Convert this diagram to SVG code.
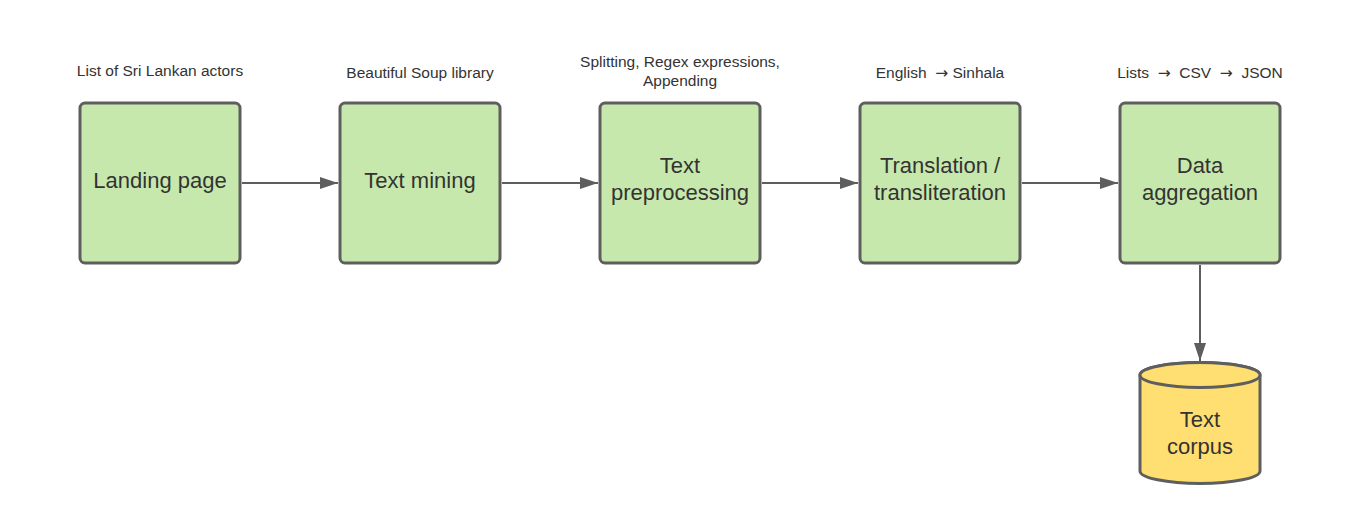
<svg xmlns="http://www.w3.org/2000/svg" width="1360" height="523" viewBox="0 0 1360 523">
<defs>
<style>
.box{fill:#c7e8ac;stroke:#5e5e5e;stroke-width:3}
.cyl{fill:#ffdf71;stroke:#5e5e5e;stroke-width:3}
.t{font-family:"Liberation Sans",Arial,sans-serif;font-size:22px;fill:#333;text-anchor:middle}
.s{font-family:"Liberation Sans",Arial,sans-serif;font-size:15.5px;fill:#333;text-anchor:middle}
.ar{font-family:"DejaVu Sans",sans-serif}
.c{fill:none;stroke:#5e5e5e;stroke-width:2}
</style>
<marker id="ah" markerWidth="18" markerHeight="12" refX="18" refY="6" orient="auto" markerUnits="userSpaceOnUse">
<path d="M0,0 L18,6 L0,12 Z" fill="#5e5e5e"/>
</marker>
</defs>
<rect width="1360" height="523" fill="#fff"/>
<g id="connectors">
<line class="c" x1="242" y1="183" x2="338" y2="183" marker-end="url(#ah)"/>
<line class="c" x1="502" y1="183" x2="598" y2="183" marker-end="url(#ah)"/>
<line class="c" x1="762" y1="183" x2="858" y2="183" marker-end="url(#ah)"/>
<line class="c" x1="1022" y1="183" x2="1118" y2="183" marker-end="url(#ah)"/>
<line class="c" x1="1200" y1="265" x2="1200" y2="361" marker-end="url(#ah)"/>
</g>
<g id="landing">
<text class="s" x="160" y="76">List of Sri Lankan actors</text>
<rect class="box" x="80" y="103" width="160" height="160" rx="5"/>
<text class="t" x="160" y="188">Landing page</text>
</g>
<g id="mining">
<text class="s" x="420" y="78">Beautiful Soup library</text>
<rect class="box" x="340" y="103" width="160" height="160" rx="5"/>
<text class="t" x="420" y="188">Text mining</text>
</g>
<g id="preprocessing">
<text class="s" x="680" y="67">Splitting, Regex expressions,</text>
<text class="s" x="680" y="86">Appending</text>
<rect class="box" x="600" y="103" width="160" height="160" rx="5"/>
<text class="t" x="680" y="173">Text</text>
<text class="t" x="680" y="200">preprocessing</text>
</g>
<g id="translation">
<text class="s" x="940" y="78" xml:space="preserve">English  <tspan class="ar">→</tspan> Sinhala</text>
<rect class="box" x="860" y="103" width="160" height="160" rx="5"/>
<text class="t" x="940" y="173">Translation /</text>
<text class="t" x="940" y="200">transliteration</text>
</g>
<g id="aggregation">
<text class="s" x="1200" y="78" xml:space="preserve">Lists  <tspan class="ar">→</tspan>  CSV  <tspan class="ar">→</tspan>  JSON</text>
<rect class="box" x="1120" y="103" width="160" height="160" rx="5"/>
<text class="t" x="1200" y="173">Data</text>
<text class="t" x="1200" y="200">aggregation</text>
</g>
<g id="corpus">
<path class="cyl" d="M1140,375 L1140,471 A60,12.5 0 0 0 1260,471 L1260,375 A60,12.5 0 0 0 1140,375 Z"/>
<ellipse class="cyl" cx="1200" cy="375" rx="60" ry="12.5"/>
<text class="t" x="1200" y="427">Text</text>
<text class="t" x="1200" y="454">corpus</text>
</g>
</svg>
